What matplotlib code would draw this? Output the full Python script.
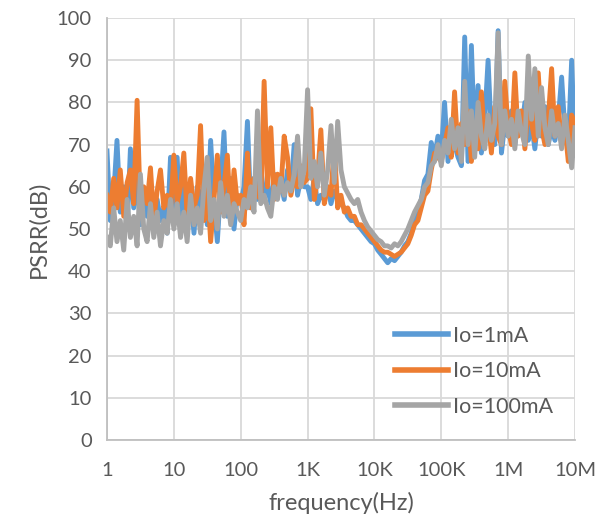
import matplotlib
matplotlib.use("Agg")
import matplotlib.pyplot as plt
from matplotlib.ticker import FixedLocator, NullLocator

# Sweep frequencies (Hz)
freq = [
    1.0, 1.12, 1.26, 1.41, 1.58, 1.78, 2.0, 2.24, 2.51, 2.82,
    3.16, 3.55, 3.98, 4.47, 5.01, 5.62, 6.31, 7.08, 7.94, 8.91,
    10.0, 11.2, 12.6, 14.1, 15.8, 17.8, 20.0, 22.4, 25.1, 28.2,
    31.6, 35.5, 39.8, 44.7, 50.1, 56.2, 63.1, 70.8, 79.4, 89.1,
    100, 112, 126, 141, 158, 178, 200, 224, 251, 282,
    316, 355, 398, 447, 501, 562, 631, 708, 794, 891,
    1000, 1120, 1260, 1410, 1580, 1780, 2000, 2240, 2510, 2820,
    3160, 3550, 3980, 4470, 5010, 5620, 6310, 7080, 7940, 8910,
    10000, 11200, 12600, 14100, 15800, 17800, 20000, 22400, 25100, 28200,
    31600, 35500, 39800, 44700, 50100, 56200, 63100, 70800, 79400, 89100,
    100000, 112000, 126000, 141000, 158000, 178000, 200000, 224000, 251000, 282000,
    316000, 355000, 398000, 447000, 501000, 562000, 631000, 708000, 794000, 891000,
    1000000, 1120000, 1260000, 1410000, 1580000, 1780000, 2000000, 2240000, 2510000, 2820000,
    3160000, 3550000, 3980000, 4470000, 5010000, 5620000, 6310000, 7080000, 7940000, 8910000,
    10000000,
]

# PSRR (dB), Io = 1 mA
psrr_1mA = [
    68.5, 52, 58, 71, 54, 60, 50, 69, 55, 62, 51, 58, 53, 60, 50, 57, 52, 55, 49, 67,
    55, 67, 50, 62, 52, 58, 49, 60, 54, 63, 51, 71, 56, 47, 60, 73, 53, 62, 50, 58,
    56, 60, 75.5, 55, 62, 57, 64, 58, 60, 56, 63, 58, 61, 57, 64, 59, 70, 58, 62, 60,
    60, 57, 62, 56, 58, 57, 60, 56, 59, 57, 56, 55, 53, 52, 52, 51, 50, 49, 48, 47,
    46.5, 45, 44, 43, 42, 43, 42.5, 43.5, 44.5, 46, 47, 49, 52, 54.5, 57, 61.5, 63, 70.5, 67, 72,
    68, 80, 66, 74, 70, 67, 65, 95.5, 66, 93.5, 70, 84, 68, 76, 90, 72, 70, 97, 68, 75,
    72, 78, 70, 76, 73, 80, 71, 75, 69, 77, 72, 79, 70, 74, 71, 76, 86, 73, 70, 90, 67.5,
]

# PSRR (dB), Io = 10 mA
psrr_10mA = [
    58, 54, 62, 55, 64, 53, 61, 64, 56, 80.5, 54, 60, 56, 64.5, 52, 59, 64, 55, 58, 54,
    67.5, 56, 60, 68, 53, 62, 55, 58, 74.5, 52, 61, 47, 57, 67.5, 54, 60, 67.5, 52, 64, 56,
    58, 51, 68, 55, 62, 58, 57, 85, 60, 74, 57, 63, 59, 72, 67, 58, 62, 60, 65, 61,
    62, 78.5, 57, 62, 73.5, 56, 60, 58, 70, 55, 58, 54, 55, 53, 53, 51, 51, 50, 49, 48,
    47, 46, 45, 44.5, 44.5, 44, 43.5, 44, 44.5, 45.5, 46.5, 48.5, 51, 52, 55, 58, 59, 64, 68, 67,
    66, 70, 74, 67, 82.5, 68, 75, 70, 78, 66, 73, 69, 82.5, 71, 76, 68, 79, 72, 70, 85,
    74, 70, 87, 72, 78, 69, 80, 75, 71, 87, 74, 70, 76, 88, 72, 79, 70, 74, 66, 77, 75,
]

# PSRR (dB), Io = 100 mA
psrr_100mA = [
    48, 46, 55, 47, 52, 45, 57, 48, 53, 46, 63, 50, 47, 56, 48, 54, 46, 52, 49, 57,
    50, 56, 48, 54, 47, 58, 51, 55, 49, 60, 67, 52, 57, 50, 61, 53, 58, 51, 56, 54,
    52, 57, 55, 60, 54, 78, 56, 58, 55, 53, 60, 57, 62, 58, 61, 59, 63, 72, 60, 64,
    83, 62, 66, 60, 68, 58, 64, 74.5, 61, 75.5, 64, 60, 58.5, 57, 56, 57, 54, 52, 50.5, 49.5,
    48.5, 47.5, 47, 46, 46, 45.5, 46.5, 46, 47, 48.5, 50, 52, 54, 55.5, 57, 60, 61, 65, 66, 70,
    65, 71, 68, 76, 69, 74, 66, 85, 70, 78, 67, 80, 72, 69, 77, 71, 75, 96.5, 70, 78,
    72, 76, 69, 78, 73, 70, 91, 76, 88, 72, 83.5, 74, 70, 78, 72, 75, 69, 77, 71, 64.5, 74,
]

series_labels = ["Io=1mA", "Io=10mA", "Io=100mA"]
series_colors = ["#5B9BD5", "#ED7D31", "#A5A5A5"]

x_ticks = [1, 10, 100, 1000, 10000, 100000, 1000000, 10000000]
x_ticklabels = ["1", "10", "100", "1K", "10K", "100K", "1M", "10M"]
y_ticks = [0, 10, 20, 30, 40, 50, 60, 70, 80, 90, 100]

plt.rcParams['font.family'] = ['Lato', 'DejaVu Sans']
text_color = "#595959"

fig = plt.figure(figsize=(6.1, 5.25), dpi=100)
ax = fig.add_axes([107/610, 1 - 440/525, 468/610, 422/525])

for ys, lab, col in zip([psrr_1mA, psrr_10mA, psrr_100mA], series_labels, series_colors):
    ax.plot(freq, ys, color=col, lw=3.5, label=lab, solid_joinstyle='round')

ax.set_xscale('log')
ax.set_xlim(1, 1e7)
ax.set_ylim(0, 100)
ax.xaxis.set_major_locator(FixedLocator(x_ticks))
ax.xaxis.set_minor_locator(NullLocator())
ax.set_xticklabels(x_ticklabels)
ax.set_yticks(y_ticks)

ax.grid(True, color="#D9D9D9", lw=1.3)
ax.set_axisbelow(True)
for s in ['top', 'right']:
    ax.spines[s].set_visible(False)
for s in ['left', 'bottom']:
    ax.spines[s].set_color("#BFBFBF")
    ax.spines[s].set_linewidth(1.3)

ax.tick_params(axis='both', length=0, labelsize=14.5, colors=text_color)
ax.tick_params(axis='x', pad=16)
ax.tick_params(axis='y', pad=11)

ax.set_xlabel("frequency(Hz)", fontsize=17, color=text_color, labelpad=9)
ax.set_ylabel("PSRR(dB)", fontsize=17, color=text_color, labelpad=5)

leg = ax.legend(loc='upper left', bbox_to_anchor=(0.596, 0.291), frameon=False,
                fontsize=15.5, handlelength=2.5, handletextpad=0.23,
                labelspacing=0.72, borderaxespad=0)
for t in leg.get_texts():
    t.set_color(text_color)
for h in leg.get_lines():
    h.set_linewidth(4)

fig.savefig("out.png", dpi=100)
